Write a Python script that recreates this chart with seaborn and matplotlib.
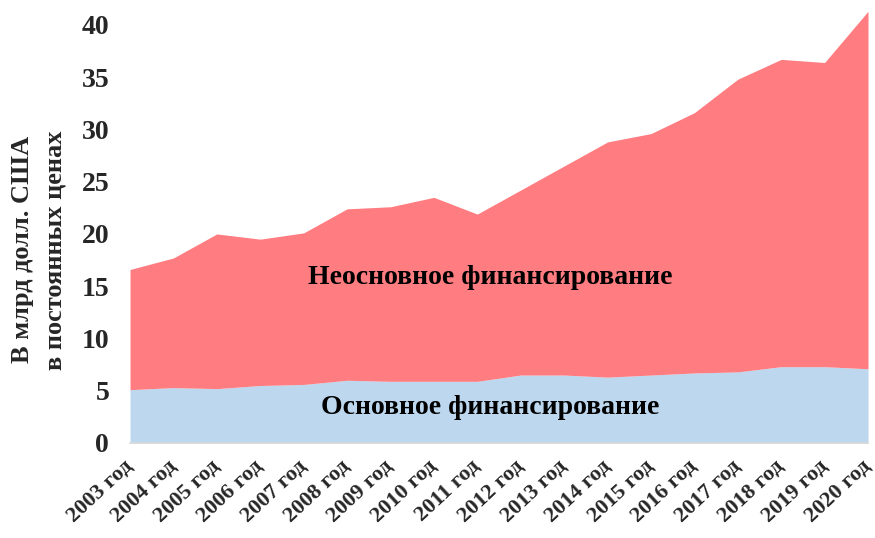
import matplotlib
matplotlib.use("Agg")
import matplotlib.pyplot as plt
import matplotlib.transforms as mtransforms
import numpy as np
import pandas as pd
import seaborn as sns

years = [f"{y} год" for y in range(2003, 2021)]
core = [5.1, 5.3, 5.2, 5.5, 5.6, 6.0, 5.9, 5.9, 5.9, 6.5, 6.5, 6.3, 6.5, 6.7, 6.8, 7.3, 7.3, 7.1]
noncore = [11.5, 12.4, 14.8, 14.0, 14.5, 16.4, 16.7, 17.6, 16.0, 17.7, 20.0, 22.5, 23.1, 24.9, 28.0, 29.4, 29.1, 34.2]
yticks = [0, 5, 10, 15, 20, 25, 30, 35, 40]

core_color = "#BDD7EE"
noncore_color = "#FF7C80"

sns.set_theme(style="white")
plt.rcParams["font.family"] = ["Liberation Serif", "DejaVu Serif"]
plt.rcParams["font.weight"] = "bold"

df = pd.DataFrame({"year": years, "core": core, "noncore": noncore})
x = np.arange(len(df))

fig = plt.figure(figsize=(8.75, 5.38), dpi=100)
ax = fig.add_axes([0.1486, 0.1766, 0.992 - 0.1486, 0.9926 - 0.1766])

ax.stackplot(x, df["core"], df["noncore"], colors=[core_color, noncore_color], linewidth=0)

ax.set_xlim(0, len(df) - 1)
ax.set_ylim(0, 42)
ax.set_yticks(yticks)
ax.set_yticklabels([str(t) for t in yticks], fontsize=20, fontweight="bold")
ax.set_xticks(x)
ax.set_xticklabels(df["year"], rotation=43, ha="right", rotation_mode="anchor",
                   fontsize=16, fontweight="bold")
ax.tick_params(axis="y", length=0, pad=15)
ax.tick_params(axis="x", length=0, pad=9)

# pull x labels a little left so the last one stays inside the figure
shift = mtransforms.ScaledTranslation(-7 / 100, 0, fig.dpi_scale_trans)
for lbl in ax.get_xticklabels():
    lbl.set_transform(lbl.get_transform() + shift)

sns.despine(ax=ax, left=True)
ax.spines["bottom"].set_color("#D9D9D9")
ax.spines["bottom"].set_linewidth(1.2)

ax.text(8.3, 15.8, "Неосновное финансирование", ha="center", va="center",
        fontsize=20, fontweight="bold", color="black")
ax.text(8.3, 3.35, "Основное финансирование", ha="center", va="center",
        fontsize=20, fontweight="bold", color="black")

fig.text(23 / 875, 1 - 249 / 538, "В млрд долл. США", rotation=90, ha="center", va="center",
         fontsize=19, fontweight="bold")
fig.text(55 / 875, 1 - 250 / 538, "в постоянных ценах", rotation=90, ha="center", va="center",
         fontsize=19, fontweight="bold")

fig.savefig("out.png", dpi=100)
